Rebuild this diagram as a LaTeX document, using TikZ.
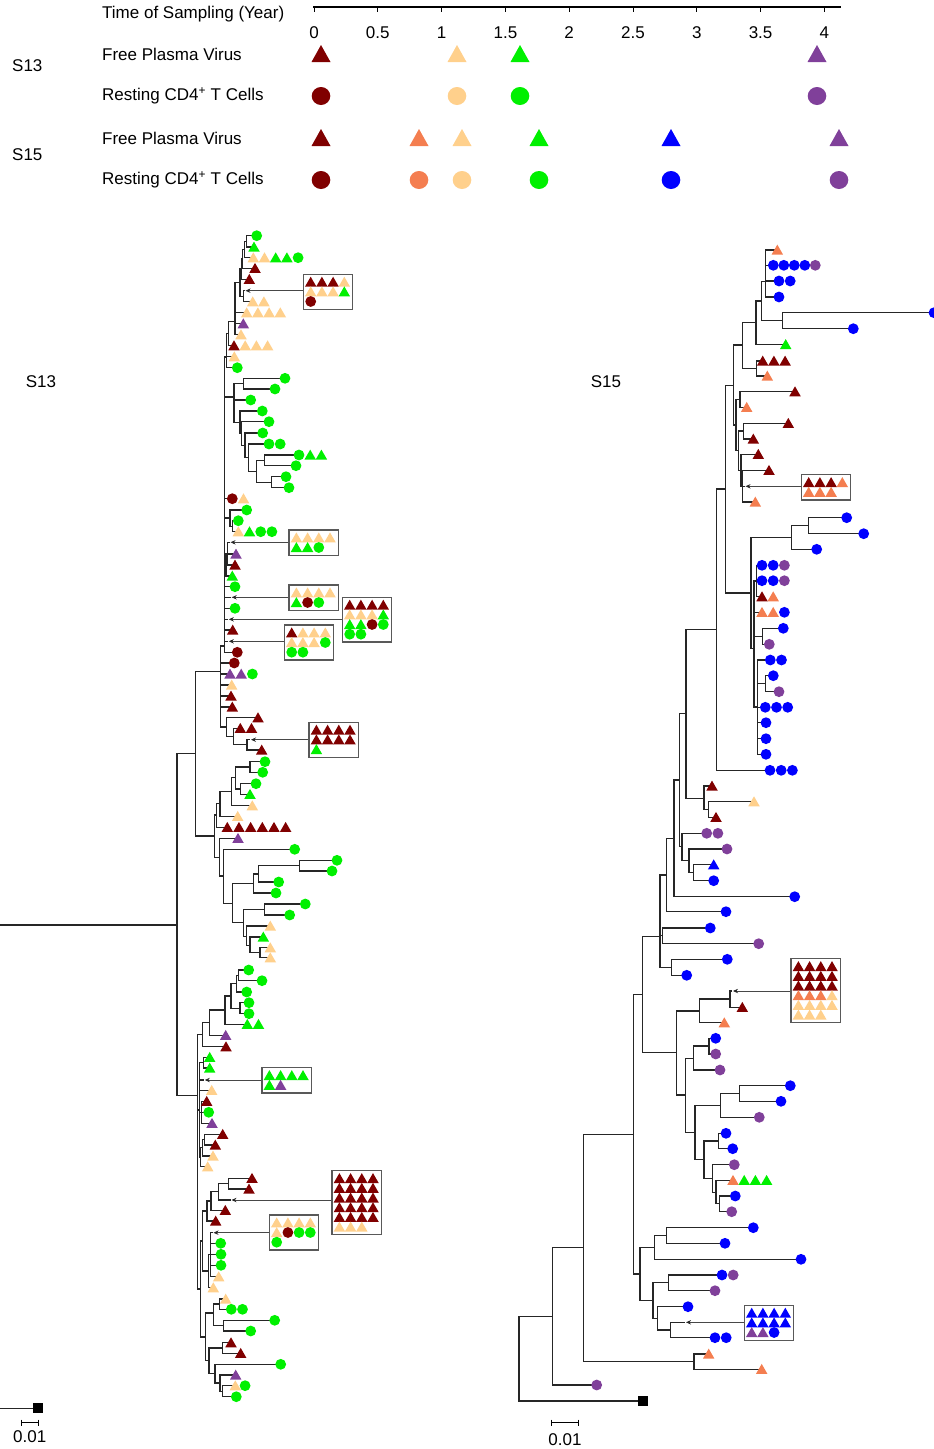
\documentclass[tikz,border=0pt]{standalone}
\usepackage{fontspec}
\setmainfont{Liberation Sans}
\usetikzlibrary{arrows.meta}
\definecolor{dr}{HTML}{800000}
\definecolor{co}{HTML}{F47E50}
\definecolor{pe}{HTML}{FFD08C}
\definecolor{gr}{HTML}{00F000}
\definecolor{bl}{HTML}{0000FF}
\definecolor{pu}{HTML}{80409A}
\def\rs{11.2}
\newcommand\symT[3]{\fill[#3] ({#1-5.75},{#2+4.6}) -- ({#1+5.75},{#2+4.6}) -- ({#1},{#2-5.4}) -- cycle;}
\newcommand\symC[3]{\fill[#3] (#1,#2) circle[radius=5.4];}
\newcommand\legT[3]{\fill[#3] ({#1-9.5},{#2+8}) -- ({#1+9.5},{#2+8}) -- ({#1},{#2-9}) -- cycle;}
\newcommand\legC[3]{\fill[#3] (#1,#2) circle[x radius=9.3,y radius=9];}
\newcommand\tn[5]{\draw[tree] (#1,#5) -- (#2,#5) (#2,#3) -- (#2,#4);}
\newcommand\lrow[4]{\draw[tree] (#1,#2) -- ({#3-3},#2);
  \foreach \kk/\cc [count=\ii from 0] in {#4}{\pgfmathsetmacro\xx{#3+\rs*\ii}\csname sym\kk\endcsname{\xx}{#2}{\cc}}}
\newcommand\tarr[4]{\draw[tree] (#1,#2) -- ({#3-1.5},#2); \draw[arr] (#4,#2) -- (#3,#2);}
\newcommand\sbx[4]{\pgfmathsetmacro\hh{15.5+9.7*(#3-1)}
  \draw[boxst] (#1,#2) rectangle ++(49.5,\hh);
  \foreach \kk/\cc [count=\ii from 0] in {#4}{\pgfmathsetmacro\xx{#1+7.4+11.2*mod(\ii,4)}\pgfmathsetmacro\yy{#2+7.8+9.7*floor(\ii/4)}\csname sym\kk\endcsname{\xx}{\yy}{\cc}}}
\begin{document}
\begin{tikzpicture}[x=1pt,y=-1pt,
  tree/.style={draw=black!85,line width=1.1pt,line cap=rect},
  arr/.style={draw=black!72,line width=1pt,-{Stealth[length=5pt,width=4.4pt,color=black!85]}},
  boxst/.style={draw=black!65,line width=1.2pt,fill=white},
  lbl/.style={font=\fontsize{17}{20}\selectfont,inner sep=0pt}]
\useasboundingbox (0,0) rectangle (934,1449);
% ---------------- legend
\node[lbl,anchor=west] (tos) at (102,14) {Time of Sampling (Year)};
\draw[black,line width=1.1pt] (313,7) -- (841,7);
\foreach \v [count=\ii from 0] in {0,0.5,1,1.5,2,2.5,3,3.5,4}{
  \draw[black,line width=1pt] ({314+63.8*\ii},7) -- ({314+63.8*\ii},12);
  \node[lbl] (tk\ii) at ({314+63.8*\ii},33) {\v};}
\node[lbl,anchor=west] (s13l) at (12,66) {S13};
\node[lbl,anchor=west] (s15l) at (12,155) {S15};
\node[lbl,anchor=west] (f13) at (102,54) {Free Plasma Virus};
\node[lbl,anchor=west] (r13) at (102,96) {Resting CD4\textsuperscript{+} T Cells};
\node[lbl,anchor=west] (f15) at (102,138) {Free Plasma Virus};
\node[lbl,anchor=west] (r15) at (102,180) {Resting CD4\textsuperscript{+} T Cells};
\legT{321}{54}{dr}\legT{457}{54}{pe}\legT{520}{54}{gr}\legT{817}{54}{pu}
\legC{321}{96}{dr}\legC{457}{96}{pe}\legC{520}{96}{gr}\legC{817}{96}{pu}
\legT{321}{138}{dr}\legT{419}{138}{co}\legT{462}{138}{pe}\legT{539}{138}{gr}\legT{671}{138}{bl}\legT{839}{138}{pu}
\legC{321}{180}{dr}\legC{419}{180}{co}\legC{462}{180}{pe}\legC{539}{180}{gr}\legC{671}{180}{bl}\legC{839}{180}{pu}
\node[lbl] (t13) at (41,382) {S13};
\node[lbl] (t15) at (606,382) {S15};
% ---------------- S13 tree
\draw[tree] (0,925) -- (177,925) (177,753.8) -- (177,1095.3);
\draw[tree] (0,1408.3) -- (33,1408.3);
\fill[black] (32.7,1403.3) rectangle ++(10,10);
\tn{177}{195.5}{671.7}{836}{753.8}
\tn{195.5}{220.5}{646}{727}{671.7}
\tn{220.5}{224.3}{357}{652.3}{646}
% U1
\tn{224.3}{226.5}{333.7}{367.7}{357}
\lrow{226.5}{356.7}{234.3}{T/pe}
\lrow{226.5}{367.7}{237.3}{C/gr}
\tn{226.5}{228.8}{321.7}{345.7}{333.7}
\lrow{228.8}{345.7}{234}{T/dr,T/pe,T/pe,T/pe}
\tn{228.8}{235}{282.6}{334.7}{321.7}
\lrow{235}{312.7}{246.7}{T/pe,T/pe,T/pe,T/pe}
\lrow{235}{323.7}{243.3}{T/pu}
\lrow{235}{334.7}{241}{T/pe}
\tn{235}{240}{269}{296.2}{282.6}
\tn{240}{243.3}{290.7}{301.7}{296.2}
\tarr{243.3}{290.7}{245.5}{303.3}
\lrow{243.3}{301.7}{252.7}{T/pe,T/pe}
\tn{240}{241.7}{259}{279.3}{269}
\lrow{241.7}{279.3}{249.3}{T/dr}
\tn{241.7}{242.7}{249.5}{268.3}{259}
\lrow{242.7}{268.3}{255}{T/dr}
\tn{242.7}{244.3}{241.3}{257.7}{249.5}
\lrow{244.3}{257.7}{253.3}{T/pe,T/pe,T/gr,T/gr,C/gr}
\tn{244.3}{246.7}{235.7}{247}{241.3}
\lrow{246.7}{235.7}{256.7}{C/gr}
\lrow{246.7}{247}{254}{T/gr}
\sbx{303.3}{274.3}{3}{T/dr,T/dr,T/dr,T/pe,T/pe,T/pe,T/pe,T/gr,C/dr}
% U2
\tn{224.3}{234}{383.7}{422.2}{397}
\tn{234}{243.3}{378.3}{389}{383.7}
\lrow{243.3}{378.3}{285}{C/gr}
\lrow{243.3}{389}{275}{C/gr}
\lrow{234}{400}{250.7}{C/gr}
\tn{234}{240}{411}{433.5}{422.2}
\lrow{240}{411}{262.3}{C/gr}
\tn{240}{241.7}{421.7}{445.3}{433.5}
\lrow{241.7}{421.7}{269}{C/gr}
\tn{241.7}{245}{433}{457.6}{445.3}
\lrow{245}{433}{262.7}{C/gr}
\tn{245}{248.3}{444}{471.3}{457.6}
\lrow{248.3}{444}{269}{C/gr,C/gr}
\tn{248.3}{256.7}{460.3}{482.2}{471.3}
\tn{256.7}{264.3}{455}{465.7}{460.3}
\lrow{264.3}{455}{299}{C/gr,T/gr,T/gr}
\lrow{264.3}{465.7}{296}{C/gr}
\tn{256.7}{271.7}{476.7}{487.7}{482.2}
\lrow{271.7}{476.7}{286}{C/gr}
\lrow{271.7}{487.7}{289}{C/gr}
% U3
\lrow{224.3}{498.7}{232.3}{C/dr,T/pe}
\tn{224.3}{230}{510}{526.2}{518}
\lrow{230}{510}{246.7}{C/gr}
\tn{230}{232.3}{520.7}{531.7}{526.2}
\lrow{232.3}{520.7}{238.3}{C/gr}
\lrow{232.3}{531.7}{238.3}{T/pe,T/gr,C/gr,C/gr}
\tn{224.3}{226}{553.7}{576}{565}
\tn{226}{227.8}{542.3}{565}{553.7}
\tarr{227.8}{542.3}{230.5}{289}
\lrow{227.8}{554}{236}{T/pu}
\lrow{227.8}{565}{235}{T/dr}
\lrow{226}{576}{232.3}{T/gr}
\lrow{224.3}{586.7}{235}{C/gr}
\tarr{224.3}{597.3}{231.7}{289}
\lrow{224.3}{608.3}{235}{C/gr}
\tarr{224.3}{619.3}{228.8}{342.3}
\lrow{224.3}{630}{232.7}{T/dr}
\tarr{224.3}{641.3}{228.8}{284.3}
\lrow{224.3}{652.3}{237.3}{C/dr}
\sbx{289}{530}{2}{T/pe,T/pe,T/pe,T/pe,T/gr,T/gr,C/gr}
\sbx{289}{585}{2}{T/pe,T/pe,T/pe,T/pe,T/gr,C/dr,C/gr}
\sbx{342.3}{597.3}{4}{T/dr,T/dr,T/dr,T/dr,T/pe,T/pe,T/pe,T/gr,T/gr,T/gr,C/dr,C/gr,C/gr,C/gr}
\sbx{284.3}{625}{3}{T/dr,T/pe,T/pe,T/pe,T/pe,T/pe,T/pe,C/gr,C/gr,C/gr}
% T0 rest
\lrow{220.5}{663}{234.3}{C/dr}
\lrow{220.5}{674}{230}{T/pu,T/pu,C/gr}
\lrow{220.5}{685}{231.7}{T/pe}
\lrow{220.5}{696}{231}{T/dr}
\lrow{220.5}{707}{232.3}{T/dr}
\tn{220.5}{226.5}{717.7}{736.5}{727}
\lrow{226.5}{717.7}{258}{T/dr}
\tn{226.5}{233.3}{728.3}{744.8}{736.5}
\lrow{233.3}{728.3}{240.3}{T/dr,T/dr}
\tn{233.3}{247}{739.7}{750}{744.8}
\tarr{247}{739.7}{251}{309}
\lrow{247}{750}{261.7}{T/dr}
\sbx{309}{722.3}{3}{T/dr,T/dr,T/dr,T/dr,T/dr,T/dr,T/dr,T/dr,T/gr}
% middle clade
\tn{195.5}{214.3}{815}{857.3}{836}
\tn{214.3}{216.7}{803.3}{827.3}{815}
{\def\rs{11.67}\lrow{216.7}{827.3}{227.3}{T/dr,T/dr,T/dr,T/dr,T/dr,T/dr}}
\tn{216.7}{220}{791.7}{816.3}{803.3}
\lrow{220}{816.3}{237.7}{T/pe}
\tn{220}{231.7}{777.7}{805.7}{791.7}
\lrow{231.7}{805.7}{252.3}{T/pe}
\tn{231.7}{235.7}{767}{789}{777.7}
\tn{235.7}{250}{761.7}{772.3}{767}
\lrow{250}{761.7}{265}{C/gr}
\lrow{250}{772.3}{262.7}{C/gr}
\tn{235.7}{240.7}{783.7}{794.3}{789}
\lrow{240.7}{783.7}{256}{C/gr}
\lrow{240.7}{794.3}{250}{T/gr}
\tn{214.3}{219.3}{838.3}{876}{857.3}
\lrow{219.3}{838.3}{238}{T/pu}
\tn{219.3}{223.3}{849.3}{903.3}{876}
\lrow{223.3}{849.3}{294.7}{C/gr}
\tn{223.3}{232.3}{883.5}{922.7}{903.3}
\tn{232.3}{253.3}{874}{893}{883.5}
\tn{253.3}{258.3}{865.7}{882}{874}
\tn{258.3}{299.3}{860.3}{871}{865.7}
\lrow{299.3}{860.3}{337}{C/gr}
\lrow{299.3}{871}{332}{C/gr}
\lrow{258.3}{882}{278.7}{C/gr}
\lrow{253.3}{893}{276}{C/gr}
\tn{232.3}{243.3}{909.5}{936.7}{922.7}
\tn{243.3}{264.3}{904}{915}{909.5}
\lrow{264.3}{904}{305.3}{C/gr}
\lrow{264.3}{915}{289.7}{C/gr}
\tn{243.3}{246.7}{926}{945.3}{936.7}
\lrow{246.7}{926}{270.3}{T/pe}
\tn{246.7}{250}{937}{952.7}{945.3}
\lrow{250}{937}{263.3}{T/gr}
\tn{250}{260}{947.7}{957.7}{952.7}
\lrow{260}{947.7}{270.3}{T/pe}
\lrow{260}{957.7}{270.3}{T/pe}
% bottom clade
\tn{177}{197.7}{1034.7}{1289}{1095.3}
\tn{197.7}{202.3}{1022.7}{1046.7}{1034.7}
\lrow{202.3}{1046.7}{226}{T/dr}
\tn{202.3}{209.3}{1010}{1035.3}{1022.7}
\lrow{209.3}{1035.3}{225.7}{T/pu}
\tn{209.3}{225}{996}{1024.3}{1010}
\lrow{225}{1024.3}{247.3}{T/gr,T/gr}
\tn{225}{231}{983.7}{1008.2}{996}
\tn{231}{236.7}{975.3}{992}{983.7}
\lrow{236.7}{992}{246.7}{C/gr}
\tn{236.7}{238.3}{970}{980.7}{975.3}
\lrow{238.3}{970}{248.7}{C/gr}
\lrow{238.3}{980.7}{262}{C/gr}
\tn{231}{240}{1002.7}{1013.7}{1008.2}
\lrow{240}{1002.7}{249}{C/gr}
\lrow{240}{1013.7}{249}{C/gr}
\tn{197.7}{199.5}{1062.7}{1157}{1110}
\tn{199.5}{203.3}{1057.3}{1068}{1062.7}
\lrow{203.3}{1057.3}{209.7}{T/gr}
\lrow{203.3}{1068}{209.7}{T/gr}
\tarr{199.5}{1080}{204.8}{262}
\lrow{199.5}{1090.3}{211.7}{T/pe}
\tn{199.5}{201.5}{1101.3}{1123.3}{1112.3}
\lrow{201.5}{1101.3}{206.7}{T/dr}
\lrow{201.5}{1112.3}{208.7}{C/gr}
\lrow{201.5}{1123.3}{212}{T/pu}
\tn{199.5}{200.8}{1147.8}{1166.7}{1157}
\lrow{200.8}{1166.7}{207.7}{T/pe}
\tn{200.8}{202.7}{1139.7}{1156}{1147.8}
\lrow{202.7}{1156}{213}{T/pe}
\tn{202.7}{204.7}{1134.3}{1145}{1139.7}
\lrow{204.7}{1134.3}{222.7}{T/dr}
\lrow{204.7}{1145}{215.3}{T/dr}
\sbx{262}{1067.7}{2}{T/gr,T/gr,T/gr,T/gr,T/gr,T/pu}
\tn{197.7}{200.5}{1241}{1337}{1289}
\tn{200.5}{202.3}{1211}{1271}{1241}
\tn{202.3}{207}{1201}{1221}{1211}
\lrow{207}{1221}{215.7}{T/dr}
\tn{207}{211}{1191.8}{1210.3}{1201}
\lrow{211}{1210.3}{225.3}{T/dr}
\tn{211}{218.3}{1183.7}{1200}{1191.8}
\tarr{218.3}{1200}{231.5}{332}
\tn{218.3}{228.3}{1178.3}{1189}{1183.7}
\lrow{228.3}{1178.3}{252}{T/dr}
\lrow{228.3}{1189}{249}{T/dr}
\tn{202.3}{208.3}{1254.7}{1287.7}{1271}
\lrow{208.3}{1287.7}{213.3}{T/pe}
\tn{208.3}{210.7}{1232.7}{1276.7}{1254.7}
\tarr{210.7}{1232.7}{213.5}{269.3}
\lrow{210.7}{1243.3}{220.7}{C/gr}
\lrow{210.7}{1254.3}{221}{C/gr}
\lrow{210.7}{1265.3}{221}{C/gr}
\lrow{210.7}{1276.7}{218.7}{T/pe}
\sbx{332}{1170.7}{6}{T/dr,T/dr,T/dr,T/dr,T/dr,T/dr,T/dr,T/dr,T/dr,T/dr,T/dr,T/dr,T/dr,T/dr,T/dr,T/dr,T/dr,T/dr,T/dr,T/dr,T/pe,T/pe,T/pe}
\sbx{269.3}{1215}{3}{T/pe,T/pe,T/pe,T/pe,T/pe,C/dr,C/gr,C/gr,C/gr}
\tn{200.5}{205.7}{1313}{1360.8}{1337}
\tn{205.7}{213.3}{1304}{1325.6}{1313}
\tn{213.3}{219.3}{1299}{1309.3}{1304}
\lrow{219.3}{1299}{225.7}{T/pe}
\lrow{219.3}{1309.3}{231.3}{C/gr,C/gr}
\tn{213.3}{223.3}{1320.3}{1331}{1325.6}
\lrow{223.3}{1320.3}{274.7}{C/gr}
\lrow{223.3}{1331}{250.7}{C/gr}
\tn{205.7}{209}{1348}{1373.7}{1360.8}
\tn{209}{222.3}{1342.7}{1353.3}{1348}
\lrow{222.3}{1342.7}{231}{T/dr}
\lrow{222.3}{1353.3}{240.7}{T/dr}
\tn{209}{215}{1364.3}{1383}{1373.7}
\lrow{215}{1364.3}{280.7}{C/gr}
\tn{215}{220}{1375}{1391.2}{1383}
\lrow{220}{1375}{235.7}{T/pu}
\tn{220}{222.7}{1385.7}{1396.7}{1391.2}
{\def\rs{9.8}\lrow{222.7}{1385.7}{235.3}{T/pe,C/gr}}
\lrow{222.7}{1396.7}{236.3}{C/gr}
% scale bar S13
\draw[black,line width=1pt] (21.3,1422.7) -- (38,1422.7) (21.3,1419.7) -- (21.3,1425.7) (38,1419.7) -- (38,1425.7);
\node[lbl] (sc13) at (29.7,1437) {0.01};
% ---------------- S15 tree
\draw[tree] (519,1316.7) -- (519,1401) -- (638,1401);
\fill[black] (638,1396) rectangle ++(10,10);
\tn{519}{552.7}{1247.7}{1385}{1316.7}
\lrow{552.7}{1385}{596.7}{C/pu}
\tn{552.7}{583.3}{1134.3}{1361.7}{1247.7}
\tn{583.3}{694}{1354}{1369.3}{1361.7}
\lrow{694}{1354}{708.7}{T/co}
\lrow{694}{1369.3}{761.7}{T/co}
\tn{583.3}{633.3}{994.3}{1274}{1134.3}
\tn{633.3}{640}{1247.3}{1300.7}{1274}
\tn{640}{654.3}{1235.7}{1259.3}{1247.3}
\tn{654.3}{666.7}{1227.7}{1243.3}{1235.7}
\lrow{666.7}{1227.7}{753.3}{C/bl}
\lrow{666.7}{1243.3}{725}{C/bl}
\lrow{654.3}{1259.3}{801}{C/bl}
\tn{640}{653}{1282.7}{1318.3}{1300.7}
\tn{653}{668.7}{1275}{1290.7}{1282.7}
\lrow{668.7}{1275}{722}{C/bl,C/pu}
\lrow{668.7}{1290.7}{715}{C/pu}
\tn{653}{657.7}{1306.7}{1330}{1318.3}
\lrow{657.7}{1306.7}{688}{C/bl}
\tn{657.7}{670.3}{1322.3}{1337.7}{1330}
\tarr{670.3}{1322.3}{686}{744.3}
\lrow{670.3}{1337.7}{715}{C/bl,C/bl}
\sbx{744.3}{1305.3}{3}{T/bl,T/bl,T/bl,T/bl,T/bl,T/bl,T/bl,T/bl,T/pu,T/pu,C/bl}
\tn{633.3}{642.7}{936.7}{1052.7}{994.3}
\tn{642.7}{676.3}{1011}{1095}{1052.7}
\tn{676.3}{699.3}{999}{1022.7}{1011}
\tn{699.3}{730}{991}{1007.3}{999}
\tarr{730}{991}{733}{791}
\lrow{730}{1007.3}{742.3}{T/dr}
\lrow{699.3}{1022.7}{724.3}{T/co}
\sbx{791}{958.7}{6}{T/dr,T/dr,T/dr,T/dr,T/dr,T/dr,T/dr,T/dr,T/dr,T/dr,T/dr,T/dr,T/co,T/co,T/co,T/pe,T/pe,T/pe,T/pe,T/pe,T/pe,T/pe,T/pe}
\tn{676.3}{685.7}{1058.3}{1132.3}{1095}
\tn{685.7}{693.3}{1046}{1070}{1058.3}
\tn{693.3}{709}{1038.3}{1054}{1046}
\lrow{709}{1038.3}{715.7}{C/bl}
\lrow{709}{1054}{715.7}{C/pu}
\lrow{693.3}{1070}{720}{C/pu}
\tn{685.7}{695}{1105.3}{1159.3}{1132.3}
\tn{695}{720.3}{1093.3}{1117.3}{1105.3}
\tn{720.3}{739.3}{1085.7}{1101.3}{1093.3}
\lrow{739.3}{1085.7}{790.3}{C/bl}
\lrow{739.3}{1101.3}{781}{C/bl}
\lrow{720.3}{1117.3}{759.3}{C/pu}
\tn{695}{704}{1141}{1178.3}{1159.3}
\tn{704}{718.7}{1133.3}{1148.7}{1141}
\lrow{718.7}{1133.3}{726}{C/bl}
\lrow{718.7}{1148.7}{732.7}{C/bl}
\tn{704}{712.7}{1164.7}{1192.3}{1178.3}
\lrow{712.7}{1164.7}{734.3}{C/pu}
\tn{712.7}{716}{1180.3}{1203.7}{1192.3}
\lrow{716}{1180.3}{733}{T/co,T/gr,T/gr,T/gr}
\tn{716}{719.3}{1196}{1211.7}{1203.7}
\lrow{719.3}{1196}{735.3}{C/bl}
\lrow{719.3}{1211.7}{731.7}{C/pu}
\tn{642.7}{660}{875}{967.3}{936.7}
\tn{660}{662.3}{928}{943.7}{935.7}
\lrow{662.3}{928}{710.3}{C/bl}
\lrow{662.3}{943.7}{758.7}{C/pu}
\tn{660}{671.3}{959.3}{975.3}{967.3}
\lrow{671.3}{959.3}{727.3}{C/bl}
\lrow{671.3}{975.3}{686.7}{C/bl}
\tn{660}{666.7}{838.3}{911.7}{875}
\lrow{666.7}{911.7}{726}{C/bl}
\tn{666.7}{674}{780}{896.7}{838.3}
\lrow{674}{896.7}{794.7}{C/bl}
\tn{674}{679.3}{713.7}{846.7}{780}
\tn{679.3}{682}{833.3}{860.7}{846.7}
\lrow{682}{833.3}{706.7}{C/pu,C/pu}
\tn{682}{689}{849}{872.7}{860.7}
\lrow{689}{849}{727}{C/pu}
\tn{689}{693.7}{864.7}{880.7}{872.7}
\lrow{693.7}{864.7}{713.7}{T/bl}
\lrow{693.7}{880.7}{713.7}{C/bl}
\tn{679.3}{686}{629.3}{798.3}{713.7}
\tn{686}{704}{786}{809.3}{798.3}
\lrow{704}{786}{712}{T/dr}
\tn{704}{708.3}{801.7}{817.3}{809.3}
\lrow{708.3}{801.7}{754}{T/pe}
\lrow{708.3}{817.3}{716}{T/dr}
\tn{686}{716.5}{489}{770.3}{629.3}
\lrow{716.5}{770.3}{770}{C/bl,C/bl,C/bl}
\tn{716.5}{725.5}{385.7}{593}{489}
\tn{725.5}{751}{537.7}{648.3}{593}
\tn{751}{791.3}{525.7}{549.3}{537.7}
\tn{791.3}{808.3}{517.7}{533.7}{525.7}
\lrow{808.3}{517.7}{846.7}{C/bl}
\lrow{808.3}{533.7}{863.7}{C/bl}
\lrow{791.3}{549.3}{816.7}{C/bl}
\tn{751}{754}{581}{707}{648.3}
\tn{754}{756.5}{565.3}{596.7}{581}
\lrow{756.5}{565.3}{762}{C/bl,C/bl,C/pu}
\lrow{756.5}{580.7}{762}{C/bl,C/bl,C/pu}
\lrow{756.5}{596.7}{762}{T/dr,T/co}
\lrow{754}{612.3}{762}{T/co,T/co,C/bl}
\tn{754}{762.7}{628.3}{644.3}{636.3}
\lrow{762.7}{628.3}{783.3}{C/bl}
\lrow{762.7}{644.3}{769.3}{C/pu}
\tn{754}{757.5}{660}{754.3}{707}
\lrow{757.5}{660}{770.3}{C/bl,C/bl}
\tn{757.5}{765.7}{675.7}{691.7}{683.7}
\lrow{765.7}{675.7}{773.3}{C/bl}
\lrow{765.7}{691.7}{779}{C/pu}
\lrow{757.5}{707.3}{765.3}{C/bl,C/bl,C/bl}
\lrow{757.5}{722.7}{766}{C/bl}
\lrow{757.5}{738.7}{766}{C/bl}
\lrow{757.5}{754.3}{766}{C/bl}
\tn{725.5}{733.3}{345}{425}{385.7}
\tn{733.3}{742.7}{322.7}{368.3}{345}
\tn{742.7}{756}{301}{344.5}{322.7}
\lrow{756}{344.5}{785.7}{T/gr}
\tn{756}{761.3}{281.7}{320.7}{301}
\tn{761.3}{765.7}{250}{297}{281.7}
\lrow{765.7}{250}{777.3}{T/co}
{\def\rs{10.5}\lrow{765.7}{265.3}{773.3}{C/bl,C/bl,C/bl,C/bl,C/pu}}
\lrow{765.7}{281}{779}{C/bl,C/bl}
\lrow{765.7}{297}{779}{C/bl}
\tn{761.3}{782.3}{312.7}{328.7}{320.7}
\lrow{782.3}{312.7}{934}{C/bl}
\lrow{782.3}{328.7}{853.3}{C/bl}
\tn{742.7}{756.7}{361}{376}{368.3}
\lrow{756.7}{361}{762.7}{T/dr,T/dr,T/dr}
\lrow{756.7}{376}{767.3}{T/co}
\tn{733.3}{736}{399.3}{450.7}{425}
\tn{736}{740}{391.7}{407.3}{399.3}
\lrow{740}{391.7}{795}{T/dr}
\lrow{740}{407.3}{746.7}{T/co}
\tn{736}{738.5}{431}{470.4}{450.7}
\tn{738.5}{743.3}{423.3}{439}{431}
\lrow{743.3}{423.3}{788.3}{T/dr}
\lrow{743.3}{439}{753.3}{T/dr}
\tn{738.5}{741}{454.3}{486.3}{470.4}
\lrow{741}{454.3}{758.3}{T/dr}
\tn{741}{742.7}{470.3}{502}{486.3}
\lrow{742.7}{470.3}{769}{T/dr}
\tarr{742.7}{486.3}{745.5}{801.3}
\lrow{742.7}{502}{755.3}{T/co}
\sbx{801.3}{474.7}{2}{T/dr,T/dr,T/dr,T/co,T/co,T/co,T/co}
% scale bar S15
\draw[black,line width=1pt] (551.7,1422.7) -- (578.3,1422.7) (551.7,1419.7) -- (551.7,1425.7) (578.3,1419.7) -- (578.3,1425.7);
\node[lbl] (sc15) at (565,1440) {0.01};
\end{tikzpicture}
\end{document}
